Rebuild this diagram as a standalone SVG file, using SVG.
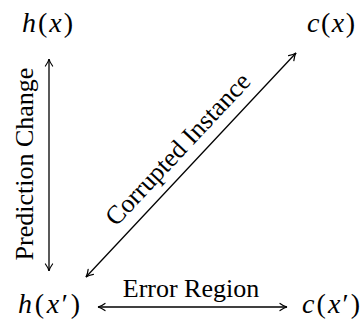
<svg xmlns="http://www.w3.org/2000/svg" width="364" height="325" viewBox="0 0 364 325">
  <defs>
    <marker id="ah" viewBox="-9 -5 10 10" refX="0" refY="0" markerWidth="10" markerHeight="10" markerUnits="userSpaceOnUse" orient="auto-start-reverse">
      <path d="M-7,-3.6 Q-3,-0.6 0,0 Q-3,0.6 -7,3.6" stroke="#000" stroke-width="1.2" fill="none" stroke-linecap="round"/>
    </marker>
  </defs>
  <rect width="364" height="325" fill="#fff"/>
  <g id="node-hx">
    <text font-family="'Liberation Serif', serif" font-size="28" x="22" y="32" textLength="51" lengthAdjust="spacing"><tspan font-style="italic">h</tspan>(<tspan font-style="italic">x</tspan>)</text>
  </g>
  <g id="node-cx">
    <text font-family="'Liberation Serif', serif" font-size="28" x="307" y="32" textLength="48" lengthAdjust="spacing"><tspan font-style="italic">c</tspan>(<tspan font-style="italic">x</tspan>)</text>
  </g>
  <g id="node-hxp">
    <text font-family="'Liberation Serif', serif" font-size="28" x="18" y="313" textLength="62" lengthAdjust="spacing"><tspan font-style="italic">h</tspan>(<tspan font-style="italic">x</tspan>′)</text>
  </g>
  <g id="node-cxp">
    <text font-family="'Liberation Serif', serif" font-size="28" x="302" y="313" textLength="58" lengthAdjust="spacing"><tspan font-style="italic">c</tspan>(<tspan font-style="italic">x</tspan>′)</text>
  </g>
  <g id="connectors" stroke="#000" stroke-width="1.3" fill="none">
    <line x1="49" y1="59" x2="49" y2="271" marker-start="url(#ah)" marker-end="url(#ah)"/>
    <line x1="296" y1="53" x2="86" y2="277" marker-start="url(#ah)" marker-end="url(#ah)"/>
    <line x1="98" y1="307" x2="287" y2="307" marker-start="url(#ah)" marker-end="url(#ah)"/>
  </g>
  <g id="labels" fill="#000" stroke="none">
    <text font-family="'Liberation Serif', serif" font-size="26" text-anchor="middle" transform="translate(33,164) rotate(-90)">Prediction Change</text>
    <text font-family="'Liberation Serif', serif" font-size="26" text-anchor="middle" transform="translate(184,155) rotate(-46.8)">Corrupted Instance</text>
    <text font-family="'Liberation Serif', serif" font-size="26" text-anchor="middle" x="191" y="297">Error Region</text>
  </g>
</svg>
